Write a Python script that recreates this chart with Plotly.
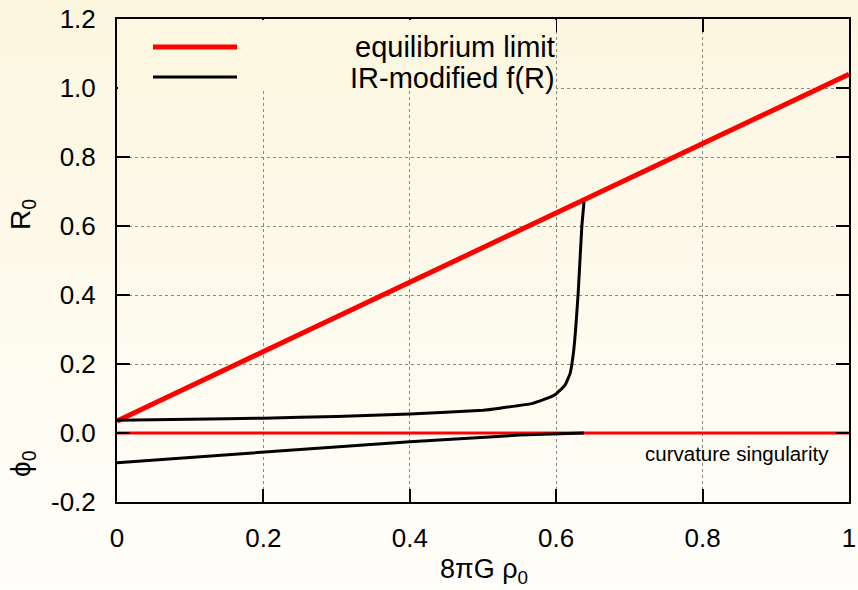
import base64
import plotly.graph_objects as go

# ---- data ----
rho_eq = [0.0, 1.0]
R_eq = [0.035, 1.04]

rho_sing = [0.0, 1.0]
phi_sing = [0.0, 0.0]

rho_ir = [0.0, 0.1, 0.2, 0.3, 0.4, 0.5, 0.523, 0.568, 0.598, 0.612, 0.619, 0.624, 0.630, 0.635, 0.638]
R_ir = [0.037, 0.040, 0.043, 0.048, 0.055, 0.066, 0.072, 0.086, 0.110, 0.139, 0.173, 0.241, 0.405, 0.598, 0.670]

rho_phi = [0.0, 0.2, 0.4, 0.55, 0.6, 0.638]
phi_ir = [-0.086, -0.055, -0.025, -0.006, -0.002, 0.0]

x_ticks = [0, 0.2, 0.4, 0.6, 0.8, 1.0]
x_ticktext = ["0", "0.2", "0.4", "0.6", "0.8", "1"]
y_ticks = [-0.2, 0.0, 0.2, 0.4, 0.6, 0.8, 1.0, 1.2]
y_ticktext = ["-0.2", "0.0", "0.2", "0.4", "0.6", "0.8", "1.0", "1.2"]

legend_names = ["equilibrium limit", "IR-modified f(R)"]

FONT = "Liberation Sans, Arial, Helvetica, sans-serif"
W, H = 858, 590
ML, MR, MT, MB = 117, 9, 19, 88
PW, PH = W - ML - MR, H - MT - MB

fig = go.Figure()
fig.add_trace(go.Scatter(x=rho_eq, y=R_eq, mode="lines",
                         line=dict(color="#ff0000", width=5)))
fig.add_trace(go.Scatter(x=rho_sing, y=phi_sing, mode="lines",
                         line=dict(color="#ff0000", width=3)))
fig.add_trace(go.Scatter(x=rho_ir, y=R_ir, mode="lines",
                         line=dict(color="#000000", width=3, shape="spline", smoothing=0.4)))
fig.add_trace(go.Scatter(x=rho_phi, y=phi_ir, mode="lines",
                         line=dict(color="#000000", width=3)))

# gradient background as svg image
svg = f'''<svg xmlns="http://www.w3.org/2000/svg" width="{W}" height="{H}" preserveAspectRatio="none">
<defs><linearGradient id="g" x1="0" y1="0" x2="0" y2="1">
<stop offset="0" stop-color="#fcf6df"/><stop offset="1" stop-color="#fffefa"/>
</linearGradient></defs><rect width="{W}" height="{H}" fill="url(#g)"/></svg>'''
src = "data:image/svg+xml;base64," + base64.b64encode(svg.encode()).decode()

def px(x):
    return (x - ML) / PW

def py(y):
    return 1 - (y - MT) / PH

shapes = [
    # opaque key box
    dict(type="rect", xref="paper", yref="paper", x0=px(ML + 1), x1=px(556), y0=py(89), y1=py(MT + 1),
         fillcolor="#fcf7e1", line=dict(width=0), layer="above"),
    # key samples
    dict(type="line", xref="paper", yref="paper", x0=px(153), x1=px(237), y0=py(47), y1=py(47),
         line=dict(color="#ff0000", width=5)),
    dict(type="line", xref="paper", yref="paper", x0=px(153), x1=px(237), y0=py(77), y1=py(77),
         line=dict(color="#000000", width=3)),
]

annotations = [
    dict(text=legend_names[0], xref="paper", yref="paper", x=px(557), y=py(47), xanchor="right",
         yanchor="middle", showarrow=False, font=dict(size=29, color="#000", family=FONT)),
    dict(text=legend_names[1], xref="paper", yref="paper", x=px(557), y=py(78), xanchor="right",
         yanchor="middle", showarrow=False, font=dict(size=29, color="#000", family=FONT)),
    dict(text="curvature singularity", xref="paper", yref="paper", x=px(831), y=py(453), xanchor="right",
         yanchor="middle", showarrow=False, font=dict(size=20.5, color="#000", family=FONT)),
    dict(text="8πG ρ<sub>0</sub>", xref="paper", yref="paper", x=px(484), y=py(571), xanchor="center",
         yanchor="middle", showarrow=False, font=dict(size=27, color="#000", family=FONT)),
    dict(text="R<sub>0</sub>", xref="paper", yref="paper", x=px(22), y=py(215), xanchor="center",
         yanchor="middle", showarrow=False, textangle=-90, font=dict(size=28, color="#000", family=FONT)),
    dict(text="ϕ<sub>0</sub>", xref="paper", yref="paper", x=px(22), y=py(464), xanchor="center",
         yanchor="middle", showarrow=False, textangle=-90, font=dict(size=28, color="#000", family=FONT)),
]

axis_common = dict(showline=True, linecolor="#000", linewidth=2, mirror="ticks",
                   ticks="inside", ticklen=13, tickwidth=2, tickcolor="#000",
                   showgrid=True, gridcolor="#888888", griddash="dot", gridwidth=1,
                   zeroline=False, automargin=False,
                   tickfont=dict(size=26, color="#000", family=FONT))

fig.update_layout(
    width=W, height=H,
    margin=dict(l=ML, r=MR, t=MT, b=MB, pad=0, autoexpand=False),
    paper_bgcolor="#fffefa", plot_bgcolor="rgba(0,0,0,0)",
    showlegend=False,
    images=[dict(source=src, xref="paper", yref="paper", x=px(0), y=py(0),
                 sizex=W / PW, sizey=H / PH, sizing="stretch", xanchor="left", yanchor="top",
                 layer="below")],
    shapes=shapes, annotations=annotations,
    xaxis=dict(range=[0, 1], tickvals=x_ticks, ticktext=x_ticktext, ticklabelstandoff=12, **axis_common),
    yaxis=dict(range=[-0.2, 1.2], tickvals=y_ticks, ticktext=y_ticktext, ticklabelstandoff=14, **axis_common),
)

fig.write_html("out.html")
